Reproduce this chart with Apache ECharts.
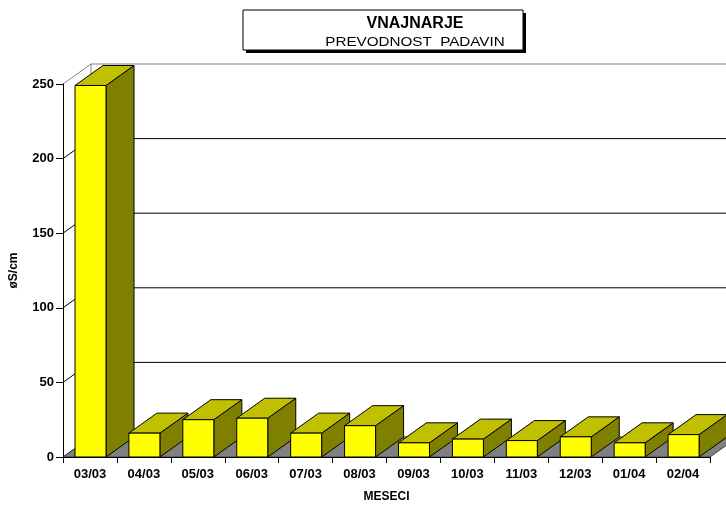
<!DOCTYPE html>
<html><head><meta charset="utf-8">
<script src="https://cdn.jsdelivr.net/npm/echarts@6/dist/echarts.min.js"></script>
<style>html,body{margin:0;padding:0;background:#fff}#c{width:726px;height:508px}</style>
</head><body><div id="c"></div>
<script>
const categories = ['03/03','04/03','05/03','06/03','07/03','08/03','09/03','10/03','11/03','12/03','01/04','02/04'];
const values = [249, 16, 25, 26, 16, 21, 9.5, 12, 11, 13.5, 9.5, 15];
const yTicks = [0, 50, 100, 150, 200, 250];
const titleMain = 'VNAJNARJE';
const titleSub = 'PREVODNOST  PADAVIN';

const DX = 28, DY = -20;
const FONT = "'Liberation Sans', Arial, sans-serif";
const chart = echarts.init(document.getElementById('c'));

function wallRender(params, api) {
  const cs = params.coordSys;
  const x0 = cs.x, w = cs.width;
  const yb = api.coord([0, 0])[1];
  const ch = [];
  ch.push({type:'polygon', shape:{points:[[x0,yb],[x0+w,yb],[x0+w+DX,yb+DY],[x0+DX,yb+DY]]},
    style:{fill:'#808080', stroke:'#404040', lineWidth:1}});
  const ytop = api.coord([0, yTicks[yTicks.length-1]])[1];
  ch.push({type:'line', shape:{x1:x0+DX, y1:ytop+DY, x2:x0+DX, y2:yb+DY}, style:{stroke:'#808080', lineWidth:1}});
  yTicks.forEach(function(t, k){
    const y = api.coord([0, t])[1];
    const isTop = (k === yTicks.length-1);
    const col = isTop ? '#808080' : '#000';
    if (t !== 0) {
      ch.push({type:'line', shape:{x1:x0+DX, y1:y+DY, x2:x0+w+DX+40, y2:y+DY}, style:{stroke:col, lineWidth:1}});
    }
    ch.push({type:'line', shape:{x1:x0, y1:y, x2:x0+DX, y2:y+DY}, style:{stroke: t===0 ? '#404040' : col, lineWidth:1}});
  });
  return {type:'group', children:ch};
}

function barRender(params, api) {
  const i = api.value(0), v = api.value(1);
  const base = api.coord([i, 0]);
  const top = api.coord([i, v]);
  const cw = api.size([1, 0])[0];
  const x1 = base[0] - cw/2 + 12, x2 = x1 + 31;
  const yb = base[1], yt = top[1];
  const st = {stroke:'#000', lineWidth:1, lineJoin:'miter'};
  return {type:'group', z2: i, children:[
    {type:'polygon', z2:i, shape:{points:[[x2,yt],[x2+DX,yt+DY],[x2+DX,yb+DY],[x2,yb]]}, style:Object.assign({fill:'#808000'}, st)},
    {type:'polygon', z2:i, shape:{points:[[x1,yt],[x2,yt],[x2+DX,yt+DY],[x1+DX,yt+DY]]}, style:Object.assign({fill:'#C0C000'}, st)},
    {type:'polygon', z2:i, shape:{points:[[x1,yb],[x2,yb],[x2,yt],[x1,yt]]}, style:Object.assign({fill:'#FFFF00'}, st)}
  ]};
}

chart.setOption({
  animation: false,
  grid: {left: 62, right: 16, top: 84, bottom: 46.5},
  xAxis: {
    type: 'category', data: categories, z: 10,
    axisLine: {lineStyle: {color: '#000', width: 1}},
    axisTick: {show: true, length: 6, lineStyle: {color: '#000'}},
    axisLabel: {color: '#000', fontFamily: FONT, fontWeight: 'bold', fontSize: 13, margin: 11},
    name: 'MESECI', nameLocation: 'middle', nameGap: 34,
    nameTextStyle: {color: '#000', fontFamily: FONT, fontWeight: 'bold', fontSize: 12}
  },
  yAxis: {
    type: 'value', min: 0, max: 250, interval: 50, z: 10,
    axisLine: {show: true, lineStyle: {color: '#000', width: 1}},
    axisTick: {show: true, length: 7, lineStyle: {color: '#000'}},
    splitLine: {show: false},
    axisLabel: {color: '#000', fontFamily: FONT, fontWeight: 'bold', fontSize: 13, margin: 9},
    name: 'øS/cm', nameLocation: 'middle', nameGap: 43, nameRotate: 90,
    nameTextStyle: {color: '#000', fontFamily: FONT, fontWeight: 'bold', fontSize: 12}
  },
  series: [
    {type: 'custom', name: 'wall', z: 1, renderItem: wallRender, data: [[0, 0]], silent: true},
    {type: 'custom', name: 'bars', z: 3, renderItem: barRender, data: values.map(function(v, i){ return [i, v]; })}
  ],
  graphic: [
    {type: 'rect', shape: {x: 246, y: 13, width: 280, height: 40}, style: {fill: '#000'}},
    {type: 'rect', shape: {x: 243, y: 10, width: 280, height: 40}, style: {fill: '#fff', stroke: '#000', lineWidth: 1}},
    {type: 'text', x: 415, y: 24, style: {text: titleMain, fill: '#000', font: "bold 16px " + FONT, align: 'center', verticalAlign: 'middle'}},
    {type: 'text', x: 415, y: 42, scaleX: 1.17, style: {text: titleSub, fill: '#000', font: "13px " + FONT, align: 'center', verticalAlign: 'middle'}}
  ]
});
</script></body></html>
